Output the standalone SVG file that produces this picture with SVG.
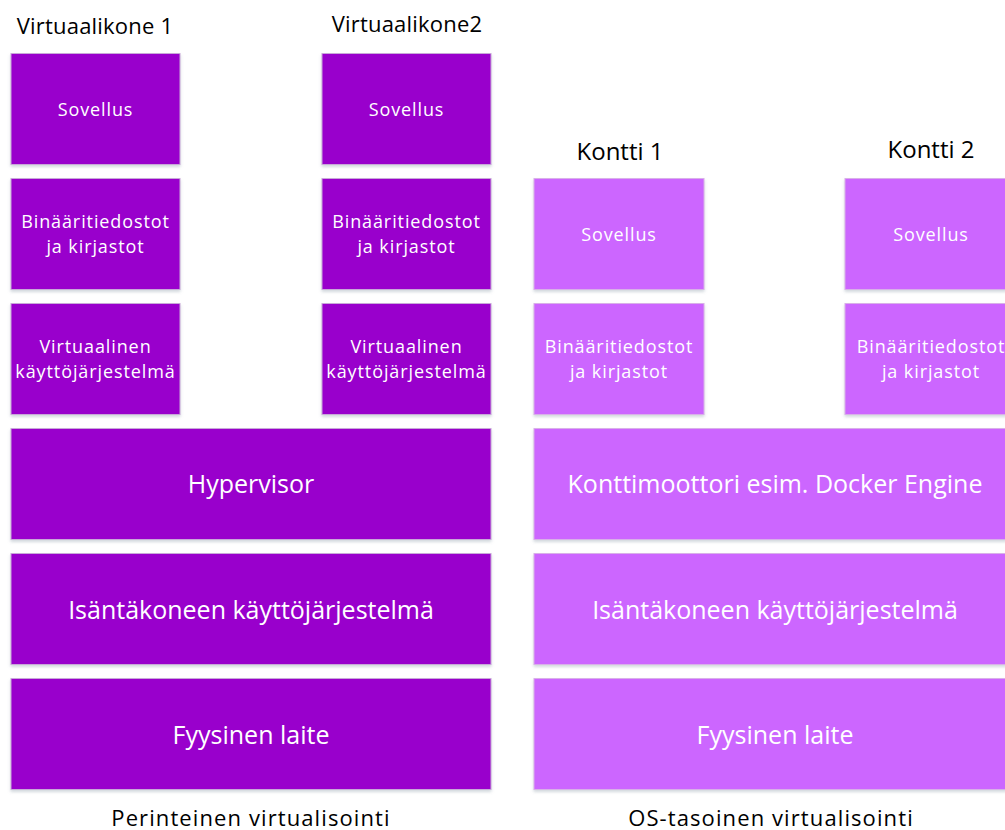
<svg xmlns="http://www.w3.org/2000/svg" width="1005" height="830" viewBox="0 0 1005 830">
<defs>
<filter id="sh" x="-5%" y="-5%" width="110%" height="115%">
<feDropShadow dx="0" dy="2" stdDeviation="1.5" flood-color="#8090a0" flood-opacity="0.35"/>
</filter>
<style>
.d{fill:#9900CC;stroke:#C8A8D8;stroke-width:1;filter:url(#sh)}
.l{fill:#CC66FF;stroke:#D8B0E8;stroke-width:1;filter:url(#sh)}
text{font-family:"Open Sans",Lato,"Liberation Sans",sans-serif;text-anchor:middle}
.w{fill:#FFFFFF;font-size:18px;letter-spacing:0.9px}
.wb{fill:#FFFFFF;font-size:25px;letter-spacing:0px}
.k{fill:#000000;font-size:22px;letter-spacing:0.2px}
.kt{fill:#000000;font-size:24px}
.kb{fill:#000000;font-size:22px;letter-spacing:1.1px}
</style>
</defs>
<g id="labels">
<text class="k" x="95" y="34">Virtuaalikone 1</text>
<text class="k" x="407" y="32">Virtuaalikone2</text>
<text class="kt" x="620" y="160">Kontti 1</text>
<text class="kt" x="931" y="158">Kontti 2</text>
<text class="kb" x="251" y="826">Perinteinen virtualisointi</text>
<text class="kb" x="771" y="826">OS-tasoinen virtualisointi</text>
</g>
<g id="vm1-app"><rect class="d" x="11" y="53.5" width="169" height="111"/><text class="w" x="95.5" y="116">Sovellus</text></g>
<g id="vm1-bin"><rect class="d" x="11" y="178.5" width="169" height="111"/><text class="w" x="95.5" y="228">Binääritiedostot</text><text class="w" x="95.5" y="253">ja kirjastot</text></g>
<g id="vm1-os"><rect class="d" x="11" y="303.5" width="169" height="111"/><text class="w" x="95.5" y="353">Virtuaalinen</text><text class="w" x="95.5" y="378">käyttöjärjestelmä</text></g>
<g id="vm2-app"><rect class="d" x="322" y="53.5" width="169" height="111"/><text class="w" x="406.5" y="116">Sovellus</text></g>
<g id="vm2-bin"><rect class="d" x="322" y="178.5" width="169" height="111"/><text class="w" x="406.5" y="228">Binääritiedostot</text><text class="w" x="406.5" y="253">ja kirjastot</text></g>
<g id="vm2-os"><rect class="d" x="322" y="303.5" width="169" height="111"/><text class="w" x="406.5" y="353">Virtuaalinen</text><text class="w" x="406.5" y="378">käyttöjärjestelmä</text></g>
<g id="hypervisor"><rect class="d" x="11" y="428.5" width="480" height="111"/><text class="wb" x="251" y="493">Hypervisor</text></g>
<g id="host-os-left"><rect class="d" x="11" y="553.5" width="480" height="111"/><text class="wb" x="251" y="619">Isäntäkoneen käyttöjärjestelmä</text></g>
<g id="hw-left"><rect class="d" x="11" y="678.5" width="480" height="111"/><text class="wb" x="251" y="744">Fyysinen laite</text></g>
<g id="c1-app"><rect class="l" x="534" y="178.5" width="170" height="111"/><text class="w" x="619" y="241">Sovellus</text></g>
<g id="c1-bin"><rect class="l" x="534" y="303.5" width="170" height="111"/><text class="w" x="619" y="353">Binääritiedostot</text><text class="w" x="619" y="378">ja kirjastot</text></g>
<g id="c2-app"><rect class="l" x="845" y="178.5" width="170" height="111"/><text class="w" x="931" y="241">Sovellus</text></g>
<g id="c2-bin"><rect class="l" x="845" y="303.5" width="170" height="111"/><text class="w" x="931" y="353">Binääritiedostot</text><text class="w" x="931" y="378">ja kirjastot</text></g>
<g id="engine"><rect class="l" x="534" y="428.5" width="481" height="111"/><text class="wb" x="775" y="493">Konttimoottori esim. Docker Engine</text></g>
<g id="host-os-right"><rect class="l" x="534" y="553.5" width="481" height="111"/><text class="wb" x="775" y="619">Isäntäkoneen käyttöjärjestelmä</text></g>
<g id="hw-right"><rect class="l" x="534" y="678.5" width="481" height="111"/><text class="wb" x="775" y="744">Fyysinen laite</text></g>
<g id="connectors"></g>
</svg>
